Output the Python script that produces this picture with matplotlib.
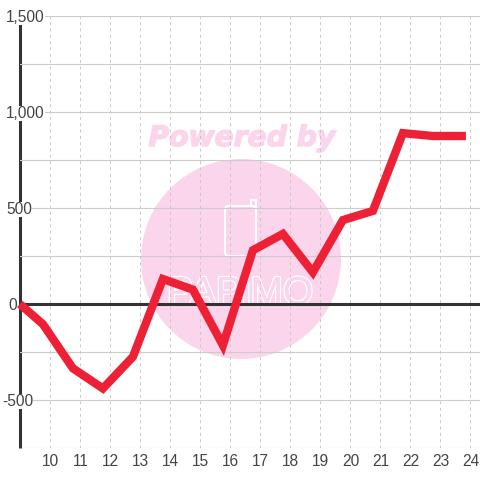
import matplotlib
matplotlib.use("Agg")
import matplotlib.pyplot as plt
from matplotlib.patches import Circle, FancyBboxPatch, PathPatch
from matplotlib.path import Path
from matplotlib.transforms import Affine2D, ScaledTranslation
import matplotlib.patheffects as pe

x_vals = [8.98, 9.75, 10.75, 11.75, 12.75, 13.75, 14.75, 15.75, 16.75, 17.75, 18.75, 19.75, 20.75, 21.75, 22.75, 23.85]
y_vals = [0, -105, -335, -440, -275, 130, 75, -215, 280, 365, 165, 437, 485, 890, 875, 875]
x_ticks = list(range(10, 25))
y_major = [1500, 1000, 500, 0, -500]
y_labels = ["1,500", "1,000", "500", "0", "-500"]
y_label_px = [6, 6, 6, 8, 2]
y_minor = [1250, 750, 250, -250, -750]

W = 480
plt.rcParams['font.family'] = ['Liberation Sans', 'DejaVu Sans']
fig = plt.figure(figsize=(4.8, 4.8), dpi=100, facecolor='white')
ax = fig.add_axes([20/W, 1-448/W, 460/W, 432/W])
ax.patch.set_alpha(0)
ax.set_xlim(10-30.4/30, 10+429.6/30)
ax.set_ylim(-750, 1500)

# watermark (pixel coordinates, y down)
px = Affine2D().scale(1, -1).translate(0, W)
pink = '#fbd5ec'
fig.add_artist(Circle((241, 259), 100, transform=px, fc=pink, ec='none', zorder=-3))
fig.add_artist(FancyBboxPatch((225, 206), 31, 50, boxstyle='round,pad=0,rounding_size=4',
                              transform=px, fc='none', ec='white', lw=1.5, zorder=-2))
fig.add_artist(PathPatch(Path([(251, 206), (251, 200), (256, 200), (256, 212)]),
                         transform=px, fc='none', ec='white', lw=1.5, zorder=-2))
fig.text(242/W, 1-146/W, "Powered by", family='DejaVu Sans', weight='bold', style='italic',
         fontsize=20.3, color=pink, ha='center', va='baseline', zorder=-2,
         path_effects=[pe.withStroke(linewidth=1.0, foreground=pink)])
t = fig.text(240/W, 1-304/W, "PAPiMO", family='Liberation Sans', fontsize=28, color=pink,
             ha='center', va='baseline', zorder=-2)
t.set_path_effects([pe.withStroke(linewidth=2.0, foreground='white'), pe.Normal()])

ax.set_axisbelow(True)
ax.set_yticks(y_major)
ax.set_yticks(y_minor, minor=True)
ax.set_xticks(x_ticks)
ax.grid(True, which='major', axis='y', color='#cccccc', lw=0.8)
ax.grid(True, which='minor', axis='y', color='#cccccc', lw=0.8)
ax.grid(True, axis='x', color='#c8c8c8', lw=0.7, linestyle=(0, (3, 3.5)))
ax.tick_params(which='both', length=0)
ax.tick_params(axis='x', labelsize=11.2, labelcolor='#444444', pad=4.5)
ax.tick_params(axis='y', labelsize=11.2, labelcolor='#444444', pad=0)

ax.set_yticklabels(y_labels)
for lab, lx in zip(ax.get_yticklabels(), y_label_px):
    lab.set_ha('left')
    lab.set_transform(lab.get_transform() + ScaledTranslation((lx-20)/100, 0, fig.dpi_scale_trans))
    lab.set_bbox(dict(fc='white', ec='none', pad=0.2))

for s in ['top', 'right', 'bottom']:
    ax.spines[s].set_visible(False)
ax.spines['left'].set_color('#333333')
ax.spines['left'].set_linewidth(2.2)
ax.spines['left'].set_capstyle('butt')
ax.spines['left'].set_zorder(0.1)

ax.axhline(0, color='#333333', lw=2.2, zorder=2)
ax.plot(x_vals, y_vals, color='#ee2035', lw=6.0, solid_capstyle='butt',
        solid_joinstyle='miter', clip_on=False, zorder=3)

fig.savefig('out.png', dpi=100, facecolor='white')
